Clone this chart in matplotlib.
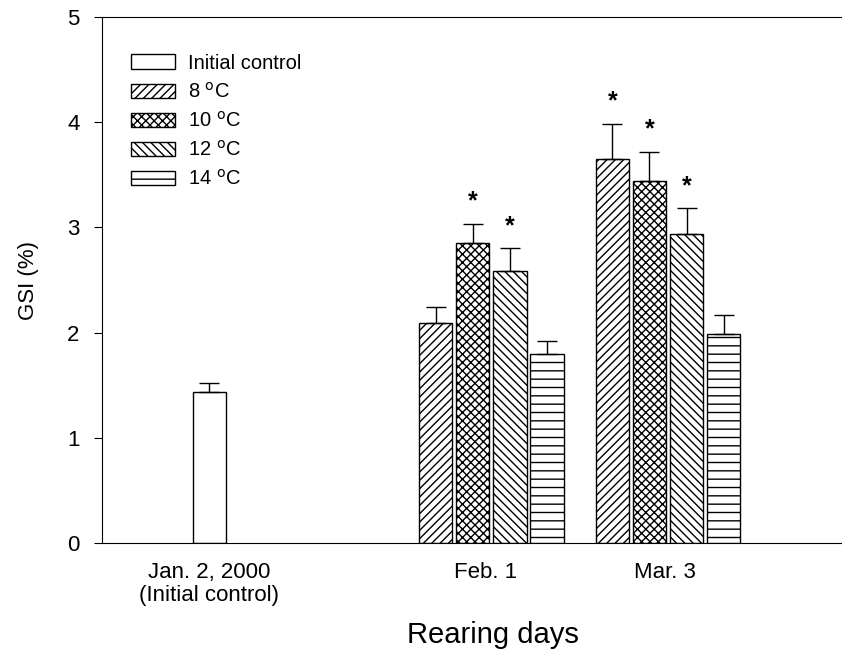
import matplotlib.pyplot as plt
import numpy as np

plt.rcParams['font.family'] = ['Liberation Sans', 'DejaVu Sans']
plt.rcParams['hatch.linewidth'] = 1.0

# data
groups = ["Jan. 2, 2000\n(Initial control)", "Feb. 1", "Mar. 3"]
treatments = ["8 $^{\\rm o}$C", "10 $^{\\rm o}$C", "12 $^{\\rm o}$C", "14 $^{\\rm o}$C"]
control_mean = 1.44
control_err = 0.08
feb_mean = [2.09, 2.85, 2.59, 1.80]
feb_err = [0.15, 0.18, 0.21, 0.12]
mar_mean = [3.65, 3.44, 2.94, 1.99]
mar_err = [0.33, 0.28, 0.24, 0.18]
feb_sig = [False, True, True, False]
mar_sig = [True, True, True, False]
hatches = ["////", "xxxx", "\\\\\\\\", "--"]

# positions
control_x = 2.9
feb_x = np.array([9.0, 10.0, 11.0, 12.0])
mar_x = np.array([13.77, 14.77, 15.77, 16.77])
label_x = [2.9, 10.35, 15.2]
width = 0.91

fig = plt.figure(figsize=(8.42, 6.57), dpi=100)
ax = fig.add_axes([0.121, 0.1735, 0.885, 0.8006])

ax.bar(control_x, control_mean, width, color="white", edgecolor="black",
       linewidth=1.0, label="Initial control")
ax.errorbar(control_x, control_mean, yerr=[[0], [control_err]], fmt="none",
            ecolor="black", capsize=7, elinewidth=1.0, capthick=1.0)

for i in range(4):
    ax.bar(feb_x[i], feb_mean[i], width, color="white", edgecolor="black",
           hatch=hatches[i], linewidth=1.0, label=treatments[i])
    ax.bar(mar_x[i], mar_mean[i], width, color="white", edgecolor="black",
           hatch=hatches[i], linewidth=1.0)
    ax.errorbar(feb_x[i], feb_mean[i], yerr=[[0], [feb_err[i]]], fmt="none",
                ecolor="black", capsize=7, elinewidth=1.0, capthick=1.0)
    ax.errorbar(mar_x[i], mar_mean[i], yerr=[[0], [mar_err[i]]], fmt="none",
                ecolor="black", capsize=7, elinewidth=1.0, capthick=1.0)
    if feb_sig[i]:
        ax.text(feb_x[i], feb_mean[i] + feb_err[i] + 0.1, "*", ha="center",
                va="bottom", fontsize=18, fontweight="bold")
    if mar_sig[i]:
        ax.text(mar_x[i], mar_mean[i] + mar_err[i] + 0.1, "*", ha="center",
                va="bottom", fontsize=18, fontweight="bold")

ax.set_xlim(0, 20.1)
ax.set_ylim(0, 5)
ax.set_yticks(range(6))
ax.tick_params(axis="y", direction="out", length=6, labelsize=16, pad=10)
ax.set_xticks(label_x)
ax.set_xticklabels(groups, fontsize=16, linespacing=1.1)
ax.tick_params(axis="x", length=0, pad=14)
ax.spines["right"].set_visible(False)
ax.set_ylabel("GSI (%)", fontsize=16, labelpad=20)
ax.set_xlabel("Rearing days", fontsize=21)
ax.xaxis.set_label_coords(0.525, -0.148)

ax.legend(loc="upper left", bbox_to_anchor=(0.015, 0.965), frameon=False,
          fontsize=14.5, handlelength=2.2, handleheight=0.7, labelspacing=0.45,
          handletextpad=0.6)

fig.savefig("out.png", dpi=100)
